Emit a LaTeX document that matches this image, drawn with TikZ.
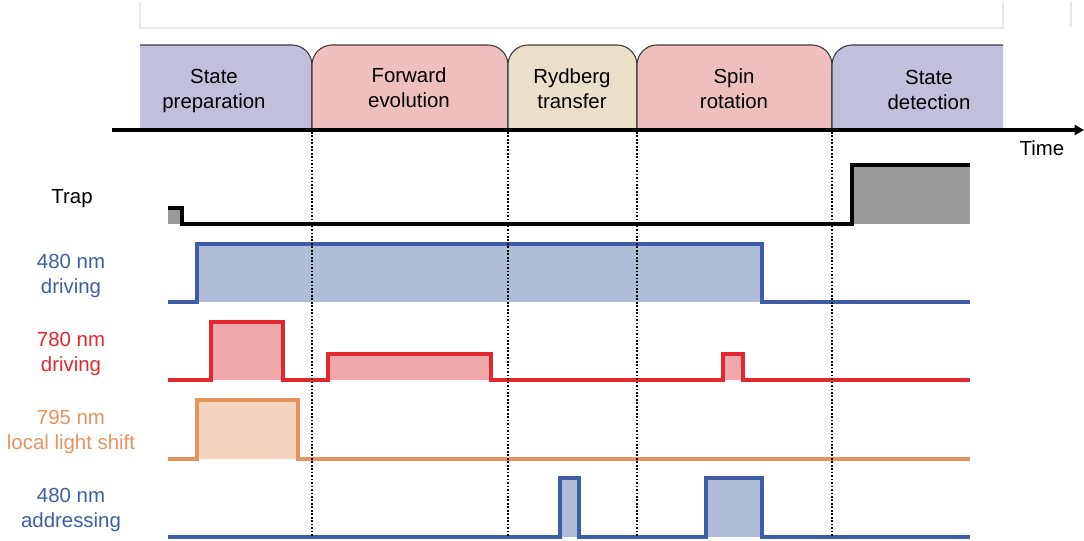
\documentclass[tikz,border=0pt]{standalone}
\usepackage{fontspec}
\setmainfont{Liberation Sans}
\usetikzlibrary{arrows.meta}
\definecolor{lav}{HTML}{C0C0DC}
\definecolor{pinkc}{HTML}{EFBEBF}
\definecolor{beige}{HTML}{EADFC7}
\definecolor{bluew}{HTML}{3D5EA6}
\definecolor{bluef}{HTML}{AFBDD9}
\definecolor{redw}{HTML}{E2282E}
\definecolor{redf}{HTML}{F0A8A8}
\definecolor{orw}{HTML}{E4935F}
\definecolor{orf}{HTML}{F5D4C0}
\definecolor{grayf}{HTML}{999999}
\definecolor{tabln}{HTML}{3A3A3A}
\begin{document}
\begin{tikzpicture}[x=0.75pt,y=-0.75pt,
  lbl/.style={align=center,font=\fontsize{15.3}{18.75}\selectfont,inner sep=0pt},
  tabline/.style={draw=tabln,line width=0.8pt},
  wave/.style={line width=2.3pt,line join=miter},
  dotl/.style={black,line width=1.4pt,dash pattern=on 1.3pt off 1.3pt}]
\useasboundingbox (0,0) rectangle (1084,540);

% faint frame at top
\draw[gray!18,line width=0.8pt] (140,2) -- (140,28) -- (1003,28) -- (1003,2);
\draw[gray!18,line width=0.8pt] (1071,2) -- (1071,27);

% phase tabs
\fill[lav] (140,130) -- (140,45) -- (292,45) .. controls (303,45) and (312,54) .. (312,65) -- (312,130) -- cycle;
\draw[tabline] (140,45) -- (292,45) .. controls (303,45) and (312,54) .. (312,65) -- (312,130);

\fill[pinkc] (312,130) -- (312,65) .. controls (312,54) and (321,45) .. (332,45) -- (488,45) .. controls (499,45) and (508,54) .. (508,65) -- (508,130) -- cycle;
\draw[tabline] (312,130) -- (312,65) .. controls (312,54) and (321,45) .. (332,45) -- (488,45) .. controls (499,45) and (508,54) .. (508,65) -- (508,130);

\fill[beige] (508,130) -- (508,65) .. controls (508,54) and (517,45) .. (528,45) -- (617,45) .. controls (628,45) and (637,54) .. (637,65) -- (637,130) -- cycle;
\draw[tabline] (508,130) -- (508,65) .. controls (508,54) and (517,45) .. (528,45) -- (617,45) .. controls (628,45) and (637,54) .. (637,65) -- (637,130);

\fill[pinkc] (637,130) -- (637,65) .. controls (637,54) and (646,45) .. (657,45) -- (812,45) .. controls (823,45) and (832,54) .. (832,65) -- (832,130) -- cycle;
\draw[tabline] (637,130) -- (637,65) .. controls (637,54) and (646,45) .. (657,45) -- (812,45) .. controls (823,45) and (832,54) .. (832,65) -- (832,130);

\fill[lav] (832,130) -- (832,65) .. controls (832,54) and (841,45) .. (852,45) -- (1003,45) -- (1003,130) -- cycle;
\draw[tabline] (832,130) -- (832,65) .. controls (832,54) and (841,45) .. (852,45) -- (1003,45);

\node[lbl] (tprep) at (214,90.5) {\strut State\\\strut preparation};
\node[lbl] (tfwd) at (409,90) {\strut Forward\\\strut evolution};
\node[lbl] (tryd) at (572,90.5) {\strut Rydberg\\\strut transfer};
\node[lbl] (tspin) at (734,91) {\strut Spin\\\strut rotation};
\node[lbl] (tdet) at (929,91.5) {\strut State\\\strut detection};

% time axis
\coordinate (axL) at (112,130);
\coordinate (axR) at (1084,130);
\draw[line width=2.3pt,-{Triangle[length=7pt,width=7.5pt]}] (axL) -- (axR);
\node[lbl] (time) at (1042,150) {\strut Time};

% row labels
\node[lbl] (ltrap) at (72,198.3) {\strut Trap};
\node[lbl,text=bluew] (l480d) at (71,275.8) {\strut 480 nm\\\strut driving};
\node[lbl,text=redw] (l780) at (71,354.2) {\strut 780 nm\\\strut driving};
\node[lbl,text=orw] (l795) at (71,431.5) {\strut 795 nm\\\strut local light shift};
\node[lbl,text=bluew] (l480a) at (71,510.2) {\strut 480 nm\\\strut addressing};

% trap
\fill[grayf] (168,208) rectangle (182,224);
\fill[grayf] (852,165) rectangle (970,224);
\draw[wave,black] (168,208) -- (182,208) -- (182,224) -- (852,224) -- (852,165) -- (970,165);

% 480 nm driving
\fill[bluef] (197,244) rectangle (762,302);
\draw[wave,bluew] (168,302) -- (197,302) -- (197,244) -- (762,244) -- (762,302) -- (970,302);

% 780 nm driving
\fill[redf] (211,322) rectangle (283,380);
\fill[redf] (328,354) rectangle (491,380);
\fill[redf] (723,354) rectangle (743,380);
\draw[wave,redw] (168,380) -- (211,380) -- (211,322) -- (283,322) -- (283,380) -- (328,380) -- (328,354) -- (491,354) -- (491,380) -- (723,380) -- (723,354) -- (743,354) -- (743,380) -- (970,380);

% 795 nm
\fill[orf] (197,400) rectangle (298,459);
\draw[wave,orw] (168,459) -- (197,459) -- (197,400) -- (298,400) -- (298,459) -- (970,459);

% 480 nm addressing
\fill[bluef] (560,478) rectangle (579,537);
\fill[bluef] (706,478) rectangle (762,537);
\draw[wave,bluew] (168,537) -- (560,537) -- (560,478) -- (579,478) -- (579,537) -- (706,537) -- (706,478) -- (762,478) -- (762,537) -- (970,537);

% dotted phase boundaries
\draw[dotl] (312,132) -- (312,536);
\draw[dotl] (508,132) -- (508,536);
\draw[dotl] (637,132) -- (637,536);
\draw[dotl] (832,132) -- (832,536);
\end{tikzpicture}
\end{document}
